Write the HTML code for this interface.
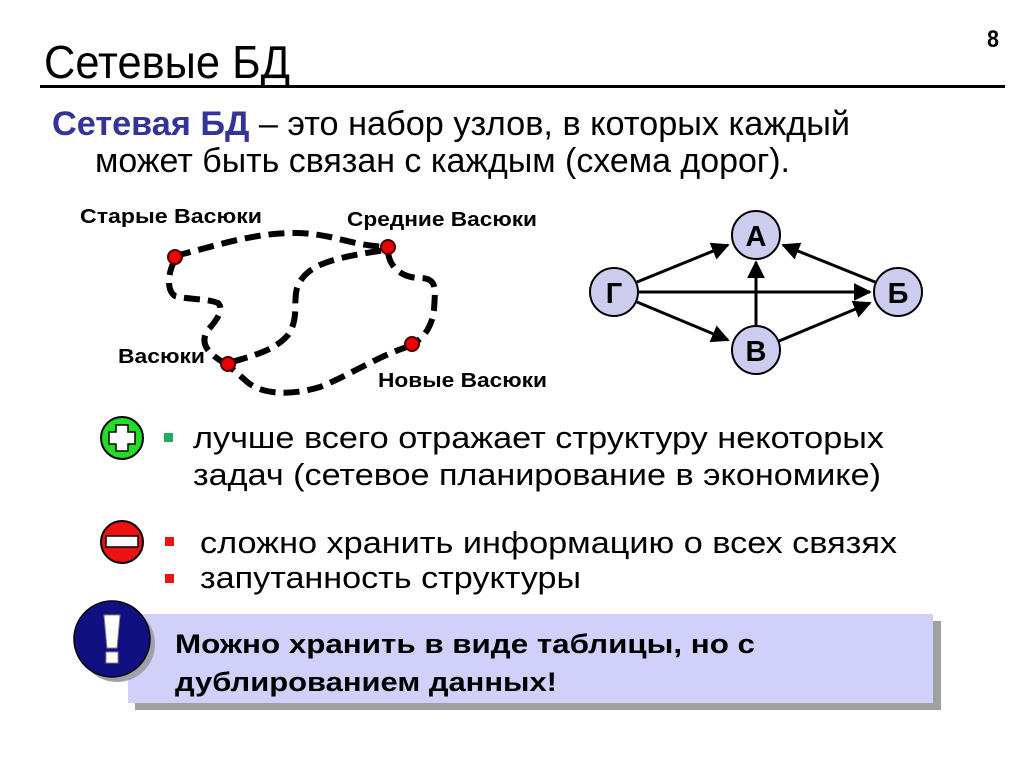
<!DOCTYPE html>
<html><head><meta charset="utf-8"><style>
html,body{margin:0;padding:0;background:#fff;}
svg{display:block;}
</style></head><body>
<svg width="1024" height="767" viewBox="0 0 1024 767" xmlns="http://www.w3.org/2000/svg" font-family="Liberation Sans, Arial, sans-serif">
<defs>
<marker id="ar" viewBox="0 0 10 10" refX="9" refY="5" markerWidth="6" markerHeight="6" orient="auto-start-reverse" markerUnits="strokeWidth">
<path d="M0,0 L10,5 L0,10 z" fill="#000"/></marker>
</defs>
<text x="987" y="47" font-size="24" font-weight="bold" textLength="12" lengthAdjust="spacingAndGlyphs">8</text>
<text x="44" y="78" font-size="46" textLength="246" lengthAdjust="spacingAndGlyphs">Сетевые БД</text>
<rect x="40" y="85" width="965" height="3" fill="#000"/>
<text x="52" y="135" font-size="34" textLength="798" lengthAdjust="spacingAndGlyphs"><tspan fill="#333399" font-weight="bold">Сетевая БД</tspan> – это набор узлов, в которых каждый</text>
<text x="95" y="172" font-size="34" textLength="695" lengthAdjust="spacingAndGlyphs">может быть связан с каждым (схема дорог).</text>

<!-- roads -->
<g fill="none" stroke="#000" stroke-width="6" stroke-dasharray="16,8" stroke-linecap="butt">
<path d="M175,256 C215,246 250,234 290,233 C330,232 350,246 388,247"/>
<path d="M175,260 C168,272 166,290 175,296 C190,300 205,298 218,303 C225,310 215,322 208,330 C200,342 205,352 226,364"/>
<path d="M232,362 C255,355 275,350 288,335 C300,318 292,300 298,285 C308,265 330,258 386,250"/>
<path d="M388,252 C390,270 405,278 420,278 C438,278 435,290 434,310 C432,325 425,338 412,344"/>
<path d="M410,346 C380,355 350,375 320,387 C290,396 260,395 245,380 L230,367"/>
</g>
<g fill="#e00" stroke="#400" stroke-width="2">
<circle cx="175" cy="257" r="7"/><circle cx="388" cy="247" r="7"/>
<circle cx="228" cy="364" r="7"/><circle cx="412" cy="344" r="7"/>
</g>
<g font-size="20" font-weight="bold">
<text x="80" y="223" textLength="182" lengthAdjust="spacingAndGlyphs">Старые Васюки</text>
<text x="347" y="226" textLength="190" lengthAdjust="spacingAndGlyphs">Средние Васюки</text>
<text x="118" y="363" textLength="87" lengthAdjust="spacingAndGlyphs">Васюки</text>
<text x="378" y="387" textLength="169" lengthAdjust="spacingAndGlyphs">Новые Васюки</text>
</g>

<!-- graph -->
<g stroke="#000" stroke-width="3" marker-end="url(#ar)">
<line x1="637" y1="282" x2="728" y2="245"/>
<line x1="638" y1="292" x2="870" y2="292"/>
<line x1="637" y1="302" x2="728" y2="340"/>
<line x1="756" y1="326" x2="756" y2="262"/>
<line x1="779" y1="341" x2="870" y2="303"/>
<line x1="875" y1="282" x2="783" y2="245"/>
</g>
<g fill="#ccccee" stroke="#000" stroke-width="2">
<circle cx="756" cy="235" r="24"/><circle cx="614" cy="292" r="24"/>
<circle cx="898" cy="292" r="24"/><circle cx="756" cy="350" r="24"/>
</g>
<g font-size="29" font-weight="bold" text-anchor="middle">
<text x="756" y="246">А</text><text x="614" y="303">Г</text>
<text x="898" y="303">Б</text><text x="756" y="361">В</text>
</g>

<!-- plus -->
<circle cx="122" cy="438" r="21" fill="#22dd22" stroke="#000" stroke-width="2"/>
<path d="M116,425 h12 v7 h7 v12 h-7 v7 h-12 v-7 h-7 v-12 h7 z" fill="#fff" stroke="#000" stroke-width="1.5"/>
<rect x="164" y="433" width="9" height="9" fill="#22aa66"/>
<text x="193" y="448" font-size="31" textLength="691" lengthAdjust="spacingAndGlyphs">лучше всего отражает структуру некоторых</text>
<text x="193" y="485" font-size="31" textLength="688" lengthAdjust="spacingAndGlyphs">задач (сетевое планирование в экономике)</text>

<!-- minus -->
<circle cx="122" cy="542" r="21" fill="#ee1111" stroke="#000" stroke-width="2"/>
<rect x="106" y="536" width="32" height="11" fill="#fff" stroke="#000" stroke-width="1.5"/>
<rect x="165" y="537" width="9" height="9" fill="#ee1111"/>
<rect x="165" y="574" width="9" height="9" fill="#ee1111"/>
<text x="200" y="553" font-size="31" textLength="697" lengthAdjust="spacingAndGlyphs">сложно хранить информацию о всех связях</text>
<text x="200" y="588" font-size="31" textLength="381" lengthAdjust="spacingAndGlyphs">запутанность структуры</text>

<!-- box -->
<rect x="135" y="621" width="806" height="89" fill="#a0a0a0"/>
<rect x="128" y="614" width="805" height="89" fill="#d0d0fa"/>
<circle cx="117" cy="644" r="38" fill="#a0a0a8"/>
<circle cx="112" cy="639" r="38" fill="#101080" stroke="#000" stroke-width="1.5"/>
<path d="M104,615 h16 l-3,33 h-10 z" fill="#fff" stroke="#888" stroke-width="1"/>
<rect x="106" y="652" width="12" height="11" fill="#fff" stroke="#888" stroke-width="1"/>
<text x="175" y="653" font-size="27" font-weight="bold" textLength="580" lengthAdjust="spacingAndGlyphs">Можно хранить в виде таблицы, но с</text>
<text x="175" y="691" font-size="27" font-weight="bold" textLength="382" lengthAdjust="spacingAndGlyphs">дублированием данных!</text>
</svg>
</body></html>
